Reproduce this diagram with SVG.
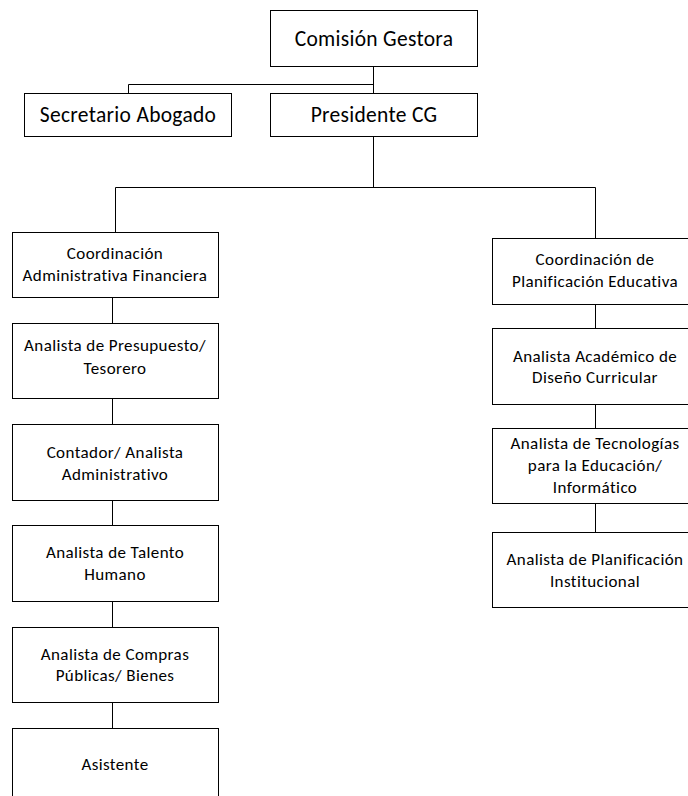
<svg xmlns="http://www.w3.org/2000/svg" width="688" height="796" viewBox="0 0 688 796">
<style>
.box{fill:#fff;stroke:#000;stroke-width:1}
.ln{fill:none;stroke:#000;stroke-width:1}
text{font-family:Carlito,Lato,"Liberation Sans",sans-serif;fill:#000;text-anchor:middle}
.big{font-size:21.5px;letter-spacing:0.3px}
.sm{font-size:17px;letter-spacing:0.4px}
</style>
<rect width="688" height="796" fill="#fff"/>
<g id="connectors">
<path class="ln" d="M373.5,66 V94 M128.5,84.5 H373.5 M128.5,84.5 V93.5 M373.5,137 V187.5 M115.5,187.5 H595.5 M115.5,187.5 V232.5 M595.5,187.5 V238.5"/>
<path class="ln" d="M112.5,297 V323 M112.5,398 V424 M112.5,500 V525 M112.5,601 V627 M112.5,702 V728"/>
<path class="ln" d="M595.5,304 V328 M595.5,404 V428 M595.5,503 V532"/>
</g>
<g id="comision"><rect class="box" x="270.5" y="10.5" width="207" height="56"/><text class="big" x="374" y="46">Comisión Gestora</text></g>
<g id="secretario"><rect class="box" x="24.5" y="93.5" width="207" height="43"/><text class="big" x="128" y="122">Secretario Abogado</text></g>
<g id="presidente"><rect class="box" x="270.5" y="93.5" width="207" height="43"/><text class="big" x="374" y="122">Presidente CG</text></g>
<g id="coord-admin"><rect class="box" x="12.5" y="232.5" width="206" height="65"/><text class="sm" x="115" y="259">Coordinación</text><text class="sm" x="115" y="281">Administrativa Financiera</text></g>
<g id="presupuesto"><rect class="box" x="12.5" y="323.5" width="206" height="75"/><text class="sm" x="115" y="351">Analista de Presupuesto/</text><text class="sm" x="115" y="374">Tesorero</text></g>
<g id="contador"><rect class="box" x="12.5" y="424.5" width="206" height="76"/><text class="sm" x="115" y="458">Contador/ Analista</text><text class="sm" x="115" y="480">Administrativo</text></g>
<g id="talento"><rect class="box" x="12.5" y="525.5" width="206" height="76"/><text class="sm" x="115" y="558">Analista de Talento</text><text class="sm" x="115" y="580">Humano</text></g>
<g id="compras"><rect class="box" x="12.5" y="627.5" width="206" height="75"/><text class="sm" x="115" y="660">Analista de Compras</text><text class="sm" x="115" y="681">Públicas/ Bienes</text></g>
<g id="asistente"><rect class="box" x="12.5" y="728.5" width="206" height="80"/><text class="sm" x="115" y="770">Asistente</text></g>
<g id="coord-plan"><rect class="box" x="492.5" y="238.5" width="210" height="66"/><text class="sm" x="595" y="265">Coordinación de</text><text class="sm" x="595" y="287">Planificación Educativa</text></g>
<g id="academico"><rect class="box" x="492.5" y="328.5" width="210" height="76"/><text class="sm" x="595" y="362">Analista Académico de</text><text class="sm" x="595" y="383">Diseño Curricular</text></g>
<g id="tecnologias"><rect class="box" x="492.5" y="428.5" width="210" height="75"/><text class="sm" x="595" y="449">Analista de Tecnologías</text><text class="sm" x="595" y="471">para la Educación/</text><text class="sm" x="595" y="493">Informático</text></g>
<g id="planificacion"><rect class="box" x="492.5" y="532.5" width="210" height="75"/><text class="sm" x="595" y="565">Analista de Planificación</text><text class="sm" x="595" y="587">Institucional</text></g>
</svg>
